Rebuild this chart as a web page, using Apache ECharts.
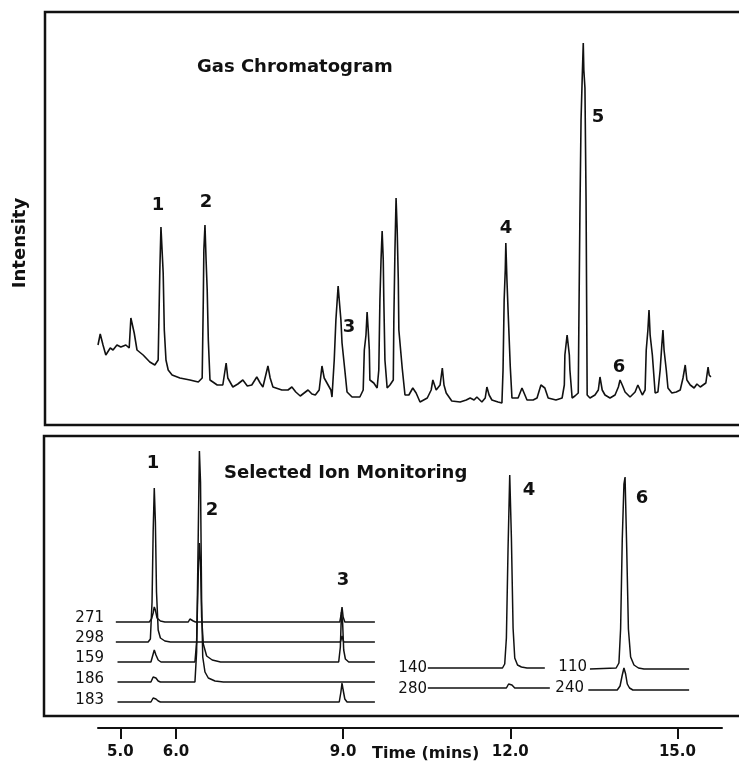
<!DOCTYPE html>
<html>
<head>
<meta charset="utf-8">
<script src="https://cdn.jsdelivr.net/npm/echarts@6/dist/echarts.min.js"></script>
<style>
  html, body { margin: 0; padding: 0; background: #fff; }
  #main { width: 739px; height: 764px; }
</style>
</head>
<body>
<div id="main"></div>
<script>
// time axis (mins)
var timeTicks = [5, 6, 9, 12, 15];

// gas chromatogram trace: [time, intensity]
var gcTrace = [
  [4.60,80],[4.64,91],[4.69,80],[4.74,70],[4.82,77],[4.87,75],[4.94,80],[5.01,78],[5.10,80],[5.16,77],
  [5.19,107],[5.25,92],[5.30,75],[5.41,70],[5.53,63],[5.62,60],[5.68,65],[5.70,125],[5.71,155],[5.73,198],
  [5.75,175],[5.77,152],[5.79,95],[5.82,65],[5.86,55],[5.93,50],[6.07,47],[6.25,45],[6.40,43],[6.47,47],
  [6.49,125],[6.50,175],[6.52,200],[6.54,165],[6.56,135],[6.58,85],[6.61,45],[6.74,40],[6.84,40],[6.90,62],
  [6.93,47],[7.02,38],[7.11,41],[7.20,45],[7.28,39],[7.36,40],[7.45,48],[7.51,42],[7.56,38],[7.65,59],
  [7.69,47],[7.74,38],[7.90,35],[8.01,35],[8.08,38],[8.15,33],[8.23,29],[8.30,32],[8.37,35],[8.44,31],
  [8.50,30],[8.57,35],[8.62,59],[8.66,47],[8.73,40],[8.78,35],[8.80,28],[8.84,65],[8.87,105],[8.91,139],
  [8.93,125],[8.96,105],[8.98,82],[9.03,55],[9.07,33],[9.16,28],[9.30,28],[9.36,35],[9.38,75],[9.41,90],
  [9.43,113],[9.45,95],[9.47,75],[9.48,45],[9.55,42],[9.61,37],[9.64,55],[9.66,125],[9.68,165],[9.70,194],
  [9.72,165],[9.73,125],[9.75,65],[9.79,37],[9.84,40],[9.90,45],[9.91,105],[9.93,175],[9.95,227],[9.97,195],
  [9.99,145],[10.00,95],[10.06,57],[10.11,30],[10.18,30],[10.25,37],[10.31,32],[10.38,23],[10.51,27],[10.58,35],
  [10.61,45],[10.67,35],[10.74,40],[10.78,57],[10.81,40],[10.85,32],[10.95,24],[11.10,23],[11.21,25],[11.28,27],
  [11.35,25],[11.40,28],[11.49,23],[11.55,27],[11.58,38],[11.62,30],[11.67,25],[11.78,23],[11.85,22],[11.87,55],
  [11.89,125],[11.91,155],[11.92,182],[11.94,145],[11.96,115],[12.00,58],[12.03,27],[12.14,27],[12.21,37],[12.27,29],
  [12.30,25],[12.41,25],[12.48,27],[12.55,40],[12.62,37],[12.68,27],[12.71,25],[12.82,25],[12.93,27],[12.97,40],
  [12.98,70],[13.02,90],[13.06,70],[13.07,55],[13.11,27],[13.16,29],[13.22,32],[13.23,95],[13.25,212],[13.27,305],
  [13.29,345],[13.31,382],[13.32,355],[13.34,337],[13.36,225],[13.38,30],[13.43,27],[13.52,30],[13.58,35],[13.61,48],
  [13.65,35],[13.70,30],[13.79,27],[13.88,30],[13.94,38],[13.97,45],[14.01,40],[14.06,33],[14.15,28],[14.24,33],
  [14.29,40],[14.37,30],[14.42,35],[14.44,75],[14.47,95],[14.49,115],[14.51,90],[14.55,70],[14.60,32],[14.65,33],
  [14.69,55],[14.72,80],[14.74,95],[14.76,75],[14.80,55],[14.83,37],[14.90,32],[14.98,33],[15.05,35],[15.10,47],
  [15.14,60],[15.17,45],[15.23,40],[15.30,37],[15.35,41],[15.41,38],[15.46,40],[15.51,42],[15.55,58],[15.57,50],
  [15.60,48]
];

// selected ion traces: [time, height above own baseline]
var ion271 = [[4.92,0],[5.52,0],[5.56,3],[5.59,9],[5.61,15],[5.63,12],[5.66,4],[5.72,1],[5.80,0],[6.22,0],[6.25,3],[6.28,4],[6.31,1],[6.35,0],[7.60,0],[7.63,2],[7.66,0],[8.94,0],[8.96,6],[8.98,15],[9.00,5],[9.03,0],[9.57,0]];
var ion298 = [[4.92,0],[5.50,0],[5.54,3],[5.57,40],[5.59,110],[5.61,154],[5.63,120],[5.65,50],[5.68,12],[5.72,4],[5.80,1],[5.90,0],[8.95,0],[8.98,6],[9.01,0],[9.57,0]];
var ion159 = [[4.95,0],[5.55,0],[5.58,6],[5.61,12],[5.64,7],[5.68,2],[5.73,0],[6.34,0],[6.37,20],[6.40,90],[6.42,119],[6.44,100],[6.46,45],[6.49,18],[6.55,6],[6.65,2],[6.80,0],[8.92,0],[8.95,15],[8.97,50],[8.99,40],[9.01,12],[9.04,3],[9.10,0],[9.57,0]];
var ion186 = [[4.95,0],[5.55,0],[5.59,5],[5.61,7],[5.64,4],[5.68,1],[5.72,0],[6.34,0],[6.37,30],[6.40,150],[6.42,231],[6.44,200],[6.46,80],[6.48,25],[6.52,10],[6.58,4],[6.70,1],[6.85,0],[9.57,0]];
var ion183 = [[4.95,0],[5.55,0],[5.59,4],[5.61,6],[5.64,3],[5.68,1],[5.72,0],[8.93,0],[8.96,10],[8.98,19],[9.00,12],[9.03,3],[9.07,0],[9.57,0]];
var ion140 = [[10.52,0],[11.86,0],[11.90,4],[11.93,30],[11.96,120],[11.99,193],[12.02,130],[12.05,40],[12.08,10],[12.13,3],[12.20,1],[12.30,0],[12.62,0]];
var ion280 = [[10.52,0],[11.93,0],[11.97,4],[12.00,5],[12.03,3],[12.08,0],[12.71,0]];
var ion110 = [[13.43,0],[13.90,1],[13.95,6],[13.98,40],[14.01,130],[14.04,185],[14.06,192],[14.09,120],[14.12,40],[14.16,12],[14.22,4],[14.30,1],[14.40,0],[15.21,0]];
var ion240 = [[13.40,0],[13.92,0],[13.97,4],[14.01,15],[14.04,22],[14.07,16],[14.10,6],[14.14,2],[14.20,0],[15.21,0]];

var ionNames = ['271', '298', '159', '186', '183', '140', '280', '110', '240'];
var ionData = [ion271, ion298, ion159, ion186, ion183, ion140, ion280, ion110, ion240];

// layout: where each ion trace sits in the lower panel (px above panel bottom)
var ionOffset = [94, 74, 54, 34, 14, 48, 28, 47, 26];
// label anchors (right edge x, center y)
var ionLabelPos = [[104,618],[104,638],[104,658],[104,679],[104,700],[427,668],[427,689],[587,667],[584,688]];

var chart = echarts.init(document.getElementById('main'));

var font = '"DejaVu Sans", sans-serif';
var lineStyle = { color: '#111', width: 1.5 };

var series = [{
  type: 'line', xAxisIndex: 0, yAxisIndex: 0,
  data: gcTrace, showSymbol: false, symbol: 'none',
  lineStyle: { color: '#111', width: 1.6 }
}];
ionData.forEach(function (d, i) {
  series.push({
    type: 'line', xAxisIndex: 1, yAxisIndex: 1,
    data: d.map(function (p) { return [p[0], p[1] + ionOffset[i]]; }),
    showSymbol: false, symbol: 'none',
    lineStyle: lineStyle
  });
});

function txt(x, y, s, opt) {
  opt = opt || {};
  return {
    type: 'text', x: x, y: y, rotation: opt.rotation || 0, silent: true,
    style: {
      text: s,
      font: (opt.weight || 'bold') + ' ' + (opt.size || 18) + 'px ' + font,
      fill: '#111',
      textAlign: opt.align || 'center',
      textVerticalAlign: 'middle'
    }
  };
}

var graphics = [
  { type: 'rect', shape: { x: 45, y: 12, width: 760, height: 413 }, style: { fill: 'none', stroke: '#111', lineWidth: 2.5 }, silent: true },
  { type: 'rect', shape: { x: 44, y: 436, width: 760, height: 280 }, style: { fill: 'none', stroke: '#111', lineWidth: 2.5 }, silent: true },
  txt(197, 67, 'Gas Chromatogram', { align: 'left' }),
  txt(224, 473, 'Selected Ion Monitoring', { align: 'left' }),
  txt(20, 243, 'Intensity', { rotation: Math.PI / 2 }),
  txt(158, 205, '1'), txt(206, 202, '2'), txt(349, 327, '3'),
  txt(506, 228, '4'), txt(598, 117, '5'), txt(619, 367, '6'),
  txt(153, 463, '1'), txt(212, 510, '2'), txt(343, 580, '3'),
  txt(529, 490, '4'), txt(642, 498, '6'),
  txt(372, 754, 'Time (mins)', { align: 'left', size: 16 })
];
ionNames.forEach(function (n, i) {
  graphics.push(txt(ionLabelPos[i][0], ionLabelPos[i][1], n, { align: 'right', weight: 'normal', size: 15 }));
});

var xBase = { type: 'value', min: 4.6, max: 15.8 };

chart.setOption({
  backgroundColor: '#fff',
  animation: false,
  grid: [
    { left: 98, right: 17, top: 12, height: 413 },
    { left: 98, right: 17, top: 436, height: 280 },
    { left: 98, right: 17, top: 700, height: 28 }
  ],
  xAxis: [
    Object.assign({ gridIndex: 0, show: false }, xBase),
    Object.assign({ gridIndex: 1, show: false }, xBase),
    Object.assign({
      gridIndex: 2,
      position: 'bottom',
      axisLine: { onZero: false, lineStyle: { color: '#111', width: 2 } },
      axisTick: { customValues: timeTicks, length: 11, lineStyle: { color: '#111', width: 2 } },
      axisLabel: {
        customValues: timeTicks, margin: 17, color: '#111',
        fontFamily: font, fontWeight: 'bold', fontSize: 15,
        formatter: function (v) { return v.toFixed(1); }
      },
      splitLine: { show: false }
    }, xBase)
  ],
  yAxis: [
    { type: 'value', gridIndex: 0, min: 0, max: 413, show: false },
    { type: 'value', gridIndex: 1, min: 0, max: 280, show: false },
    { type: 'value', gridIndex: 2, min: 0, max: 1, show: false }
  ],
  series: series,
  graphic: graphics
});
</script>
</body>
</html>
